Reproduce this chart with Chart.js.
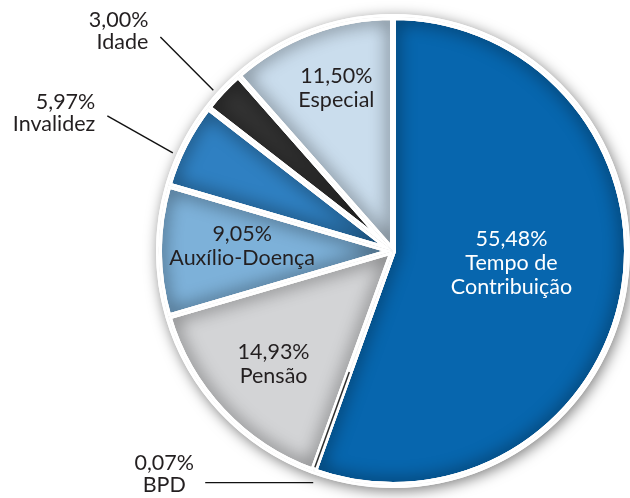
<!DOCTYPE html>
<html>
<head>
<meta charset="utf-8">
<script src="https://cdn.jsdelivr.net/npm/chart.js@4/dist/chart.umd.min.js"></script>
<style>
  html, body { margin: 0; padding: 0; background: #ffffff; }
  canvas { display: block; }
</style>
</head>
<body>
<canvas id="c" width="630" height="498"></canvas>
<script>
// ---- data ----
const categories = ['Tempo de Contribuição', 'BPD', 'Pensão', 'Auxílio-Doença', 'Invalidez', 'Idade', 'Especial'];
const values = [55.48, 0.07, 14.93, 9.05, 5.97, 3.00, 11.50];
const labelLines = [['Tempo de', 'Contribuição'], ['BPD'], ['Pensão'], ['Auxílio-Doença'], ['Invalidez'], ['Idade'], ['Especial']];

// ---- styles ----
const colors = ['#0766ae', '#2e2e2e', '#d3d4d6', '#7db1d9', '#2f80c2', '#333333', '#cadded'];
const textColors = ['#ffffff', '#231f20', '#231f20', '#231f20', '#231f20', '#231f20', '#231f20'];
// inner label placement: fraction of radius and angle shift (deg) from slice middle
const innerPlace = { 0: [0.509, -4], 2: [0.704, -0.4], 3: [0.645, 1.9], 6: [0.736, 1.5] };
// outside labels with leader lines
const outerPlace = {
  1: { a1: -0.85, r1: 245, a2: -0.85, r2: 245, hx: -108, align: 'center', dx: -41, dy1: -20, dy2: 2 },
  4: { a1: -3.05, r1: 241, a2: -1.75, r2: 316, hx: 0, align: 'right', dx: -12, dy1: -14, dy2: 8 },
  5: { a1: -1.4, r1: 241, a2: -0.6, r2: 316, hx: 0, align: 'right', dx: -12, dy1: -17, dy2: 5 }
};
const fmt = v => v.toFixed(2).replace('.', ',') + '%';

const deg = Math.PI / 180;

const piePlugin = {
  id: 'pieDecor',
  beforeDatasetsDraw(chart) {
    const ctx = chart.ctx;
    const a = chart.getDatasetMeta(0).data[0];
    const { x, y, outerRadius } = a.getProps(['x', 'y', 'outerRadius'], true);
    ctx.save();
    ctx.shadowColor = 'rgba(0,0,0,0.5)';
    ctx.shadowBlur = 14;
    ctx.shadowOffsetX = 2;
    ctx.shadowOffsetY = 3;
    ctx.beginPath();
    ctx.arc(x, y, outerRadius + 3, 0, Math.PI * 2);
    ctx.fillStyle = '#ffffff';
    ctx.fill();
    ctx.restore();
  },
  afterDatasetsDraw(chart) {
    const ctx = chart.ctx;
    const arcs = chart.getDatasetMeta(0).data;
    // inner shading of each slice
    arcs.forEach((arc, i) => {
      const p = arc.getProps(['x', 'y', 'startAngle', 'endAngle', 'outerRadius'], true);
      ctx.save();
      ctx.beginPath();
      ctx.moveTo(p.x, p.y);
      ctx.arc(p.x, p.y, p.outerRadius, p.startAngle, p.endAngle);
      ctx.closePath();
      ctx.clip();
      ctx.shadowColor = 'rgba(0,0,0,0.75)';
      ctx.shadowBlur = 18;
      ctx.lineWidth = 6;
      ctx.lineJoin = 'bevel';
      ctx.strokeStyle = '#ffffff';
      ctx.stroke();
      ctx.shadowBlur = 0;
      ctx.stroke();
      ctx.restore();
    });
    // tiny slices redrawn so they stay visible inside the gap
    arcs.forEach((arc, i) => {
      const p = arc.getProps(['x', 'y', 'startAngle', 'endAngle', 'outerRadius'], true);
      if (p.endAngle - p.startAngle < 1 * deg) {
        const mid = (p.startAngle + p.endAngle) / 2;
        ctx.save();
        ctx.beginPath();
        ctx.moveTo(p.x + Math.cos(mid) * p.outerRadius * 0.55, p.y + Math.sin(mid) * p.outerRadius * 0.55);
        ctx.lineTo(p.x + Math.cos(mid) * (p.outerRadius - 4), p.y + Math.sin(mid) * (p.outerRadius - 4));
        ctx.strokeStyle = colors[i];
        ctx.lineWidth = 1.5;
        ctx.stroke();
        ctx.restore();
      }
    });
    // labels
    ctx.save();
    ctx.font = '21.5px Lato';
    ctx.textBaseline = 'middle';
    const lh = 24;
    arcs.forEach((arc, i) => {
      const p = arc.getProps(['x', 'y', 'startAngle', 'endAngle', 'outerRadius'], true);
      const mid = (p.startAngle + p.endAngle) / 2;
      const lines = [fmt(values[i])].concat(labelLines[i]);
      if (innerPlace[i]) {
        const [f, sh] = innerPlace[i];
        const ang = mid + sh * deg;
        const cx = p.x + Math.cos(ang) * p.outerRadius * f;
        const cy = p.y + Math.sin(ang) * p.outerRadius * f;
        ctx.fillStyle = textColors[i];
        ctx.textAlign = 'center';
        const top = cy - (lines.length - 1) * lh / 2;
        lines.forEach((t, k) => ctx.fillText(t, cx, top + k * lh));
      } else if (outerPlace[i]) {
        const o = outerPlace[i];
        const a1 = mid + o.a1 * deg, a2 = mid + o.a2 * deg;
        const x1 = p.x + Math.cos(a1) * o.r1, y1 = p.y + Math.sin(a1) * o.r1;
        let x2 = p.x + Math.cos(a2) * o.r2, y2 = p.y + Math.sin(a2) * o.r2;
        ctx.beginPath();
        ctx.moveTo(x1, y1);
        ctx.lineTo(x2, y2);
        if (o.hx) { x2 += o.hx; ctx.lineTo(x2, y2); }
        ctx.strokeStyle = '#111111';
        ctx.lineWidth = 1.4;
        ctx.stroke();
        ctx.fillStyle = textColors[i];
        ctx.textAlign = o.align;
        ctx.fillText(lines[0], x2 + o.dx, y2 + o.dy1);
        ctx.fillText(lines[1], x2 + o.dx, y2 + o.dy2);
      }
    });
    ctx.restore();
  }
};

new Chart(document.getElementById('c'), {
  type: 'pie',
  data: {
    labels: categories,
    datasets: [{
      data: values,
      backgroundColor: colors,
      borderColor: '#ffffff',
      borderWidth: 6,
      borderJoinStyle: 'bevel'
    }]
  },
  options: {
    responsive: false,
    animation: false,
    radius: 234,
    layout: { padding: { left: 156, top: 4, right: 0, bottom: 0 } },
    plugins: { legend: { display: false }, tooltip: { enabled: false } }
  },
  plugins: [piePlugin]
});
</script>
</body>
</html>
